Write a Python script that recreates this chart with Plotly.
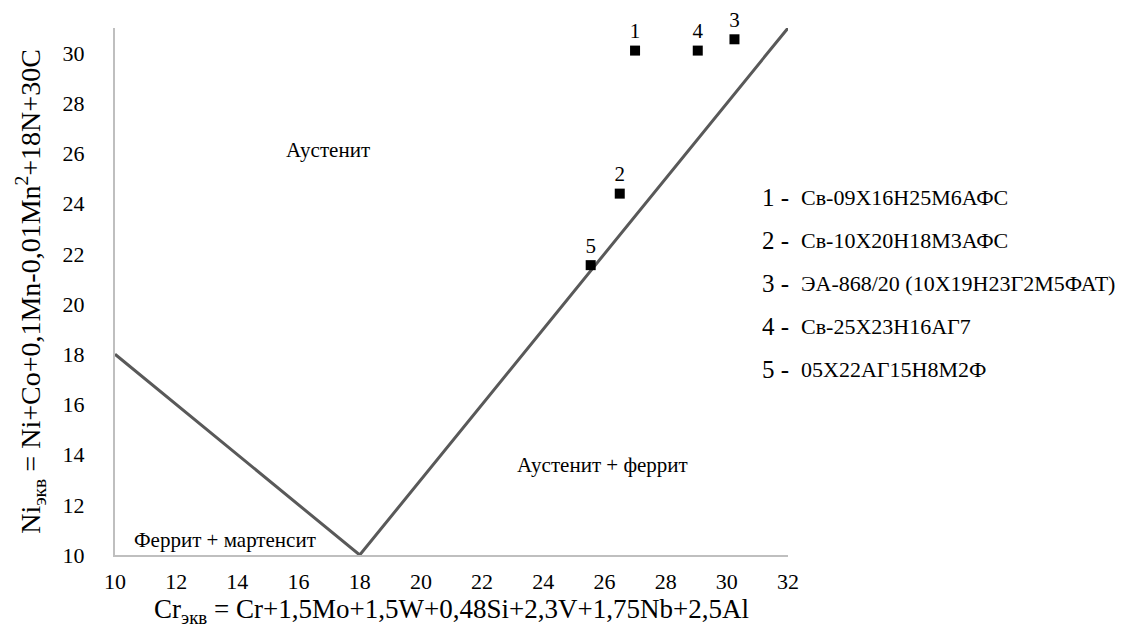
import plotly.graph_objects as go

# boundary line data (Cr_eq, Ni_eq)
boundary_x = [10, 18, 32]
boundary_y = [18, 10, 31]

# steel points
point_ids = ["1", "2", "3", "4", "5"]
point_x = [27.0, 26.5, 30.25, 29.05, 25.55]
point_y = [30.1, 24.4, 30.55, 30.1, 21.55]
point_names = ["Св-09Х16Н25М6АФС", "Св-10Х20Н18М3АФС", "ЭА-868/20 (10Х19Н23Г2М5ФАТ)",
               "Св-25Х23Н16АГ7", "05Х22АГ15Н8М2Ф"]

# region labels
region_text = ["Аустенит", "Аустенит + феррит", "Феррит + мартенсит"]
region_x = [16.95, 25.95, 13.6]
region_y = [26.15, 13.6, 10.6]

x_ticks = list(range(10, 33, 2))
y_ticks = list(range(10, 31, 2))

FONT = "Liberation Serif"

fig = go.Figure()
fig.add_trace(go.Scatter(x=boundary_x, y=boundary_y, mode="lines",
                         line=dict(color="#595959", width=3), showlegend=False, hoverinfo="skip"))
fig.add_trace(go.Scatter(x=point_x, y=point_y, mode="markers+text", text=point_ids,
                         textposition="top center", cliponaxis=False,
                         textfont=dict(family=FONT, size=21, color="#000000"),
                         marker=dict(symbol="square", size=10, color="#000000"),
                         showlegend=False))

for t, x, y in zip(region_text, region_x, region_y):
    fig.add_annotation(x=x, y=y, text=t, showarrow=False, xref="x", yref="y",
                       font=dict(family=FONT, size=21, color="#000000"))

legend_top = 0.679
for i, (pid, name) in enumerate(zip(point_ids, point_names)):
    yy = legend_top - i * 0.0816
    fig.add_annotation(xref="paper", yref="paper", x=0.958, y=yy,
                       xanchor="left", yanchor="middle", showarrow=False,
                       text=f"{pid} -",
                       font=dict(family=FONT, size=25, color="#000000"))
    fig.add_annotation(xref="paper", yref="paper", x=1.017, y=yy,
                       xanchor="left", yanchor="middle", showarrow=False,
                       text=name,
                       font=dict(family=FONT, size=22, color="#000000"))

fig.update_layout(
    width=1146, height=637,
    margin=dict(l=107, r=366, t=20, b=90),
    plot_bgcolor="white", paper_bgcolor="white",
    font=dict(family=FONT, color="#000000"),
    xaxis=dict(range=[10, 32], tickvals=x_ticks, showgrid=False, zeroline=False,
               showline=True, linecolor="#bfbfbf", linewidth=2, ticks="",
               automargin=False,
               tickfont=dict(family=FONT, size=22, color="#000000"),
               ticklabelstandoff=6,
               title=dict(text="Cr<sub>экв</sub> = Cr+1,5Mo+1,5W+0,48Si+2,3V+1,75Nb+2,5Al",
                          font=dict(family=FONT, size=27, color="#000000"), standoff=3)),
    yaxis=dict(range=[10, 31], tickvals=y_ticks, showgrid=False, zeroline=False,
               showline=True, linecolor="#bfbfbf", linewidth=2, ticks="",
               automargin=False,
               tickfont=dict(family=FONT, size=22, color="#000000"),
               ticklabelstandoff=24,
               title=dict(text="Ni<sub>экв</sub> = Ni+Co+0,1Mn-0,01Mn<sup>2</sup>+18N+30C",
                          font=dict(family=FONT, size=28, color="#000000"), standoff=14)),
)

fig.write_html("out.html")
